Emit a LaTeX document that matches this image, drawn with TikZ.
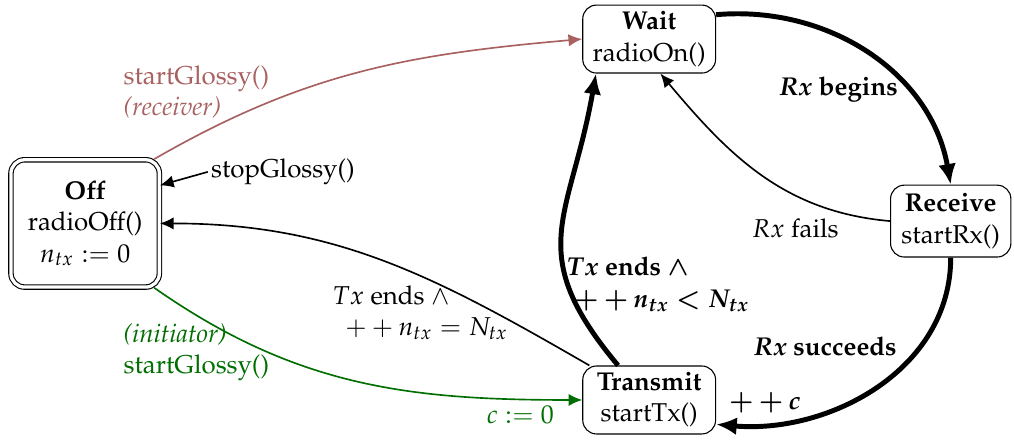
\documentclass[tikz,border=0pt]{standalone}
\usepackage[T1]{fontenc}
\usepackage{mathpazo}
\usetikzlibrary{positioning, arrows.meta}
\definecolor{recvred}{RGB}{168,96,96}
\definecolor{initgreen}{RGB}{0,110,0}

\begin{document}
\begin{tikzpicture}[
  >={Latex[length=5pt,width=4.5pt]},
  every node/.style={font=\fontsize{9.4pt}{11.4pt}\selectfont},
  state/.style={draw, rounded corners=5pt, align=center,
    minimum width=1.7cm, minimum height=0.87cm, inner sep=2pt},
  arr/.style={->, semithick},
  mainarr/.style={-{Latex[length=7.5pt,width=6.5pt]}, line width=1.8pt},
  lbl/.style={inner sep=1pt},
  mainlbl/.style={inner sep=1pt, font=\fontsize{9.4pt}{11.4pt}\selectfont\bfseries\boldmath},
]
\useasboundingbox (0,0) rectangle (12.98,5.62);

% --- States ---
\node[state, double, double distance=1.2pt, minimum width=1.9cm,
  minimum height=1.63cm] (off) at (1.09,2.76)
  {\textbf{Off}\\radioOff()\\$n_{tx} := 0$};
\node[state] (wait) at (8.31,5.12) {\textbf{Wait}\\radioOn()};
\node[state, minimum width=1.54cm, minimum height=0.92cm] (receive)
  at (12.17,2.79) {\textbf{Receive}\\startRx()};
\node[state] (transmit) at (8.31,0.50) {\textbf{Transmit}\\startTx()};

% --- Main cycle ---
\draw[mainarr] (wait.20) to[out=5, in=100] (receive.north);
\draw[mainarr] (receive.south) to[out=-90, in=-5] (transmit.-20);
\draw[mainarr] (transmit.132) to[out=130, in=-100, looseness=1.3] (wait.-147);
\draw[arr] (receive.west) to[out=175, in=-50] (wait.-72);

% --- Start / stop ---
\draw[arr] (transmit.150) to[out=150, in=0] (off.east);
\draw[arr, recvred] (off.43) to[out=30, in=185] (wait.west);
\draw[arr, initgreen] (off.-43) to[out=-35, in=180] (transmit.west);
\node[lbl, anchor=west] (stop) at (2.66,3.42) {stopGlossy()};
\draw[arr] (stop.west) -- (off.27);

% --- Labels ---
\node[mainlbl] (lbegin) at (10.73,4.47) {$Rx$ begins};
\node[lbl] (lfail) at (10.18,2.70) {$Rx$ fails};
\node[mainlbl] (lsucc) at (10.56,1.18) {$Rx$ succeeds};
\node[mainlbl] (linc) at (9.79,0.46) {$++c$};
\node[mainlbl, align=left] (lloop) at (8.42,1.98)
  {$Tx$ ends $\wedge$\\\hspace{0.3em}$++n_{tx} < N_{tx}$};
\node[lbl, align=left] (lend) at (5.38,1.62)
  {$Tx$ ends $\wedge$\\\hspace{0.5em}$++n_{tx} = N_{tx}$};
\node[lbl, anchor=west, align=left, text=recvred] (lrecv) at (1.54,4.44)
  {startGlossy()\\\textit{(receiver)}};
\node[lbl, anchor=west, align=left, text=initgreen] (linit) at (1.54,1.11)
  {\textit{(initiator)}\\startGlossy()};
\node[lbl, text=initgreen] (lzero) at (6.66,0.31) {$c := 0$};

\end{tikzpicture}
\end{document}
